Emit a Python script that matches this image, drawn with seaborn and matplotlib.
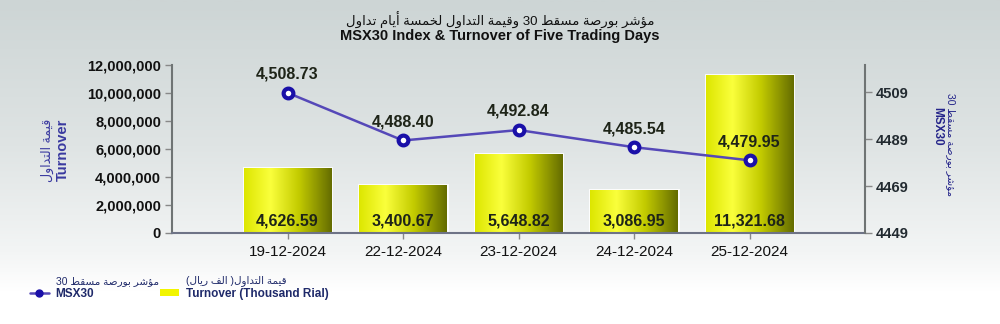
import unicodedata
import numpy as np
import matplotlib
matplotlib.use("Agg")
import matplotlib.pyplot as plt
from matplotlib.colors import LinearSegmentedColormap
from matplotlib.lines import Line2D
from matplotlib.patches import Patch
import seaborn as sns

# ---------------- data ----------------
dates = ["19-12-2024", "22-12-2024", "23-12-2024", "24-12-2024", "25-12-2024"]
turnover_thousand = [4626.59, 3400.67, 5648.82, 3086.95, 11321.68]
msx30_index = [4508.73, 4488.40, 4492.84, 4485.54, 4479.95]
left_ticks = [0, 2000000, 4000000, 6000000, 8000000, 10000000, 12000000]
right_ticks = [4449, 4469, 4489, 4509]

title_ar = "مؤشر بورصة مسقط 30 وقيمة التداول لخمسة أيام تداول"
title_en = "MSX30 Index & Turnover of Five Trading Days"
left_label_ar = "قيمة التداول"
left_label_en = "Turnover"
right_label_ar = "مؤشر بورصة مسقط 30"
right_label_en = "MSX30"
legend_ar_line = "مؤشر بورصة مسقط 30"
legend_en_line = "MSX30"
legend_ar_bar = "قيمة التداول( الف ريال)"
legend_en_bar = "Turnover (Thousand Rial)"


# ------------- minimal Arabic shaping + RTL ordering -------------
def _form(ch, kind):
    try:
        return unicodedata.lookup(unicodedata.name(ch) + " " + kind + " FORM")
    except (KeyError, ValueError):
        return None


def _is_arabic(ch):
    return "\u0600" <= ch <= "\u06ff"


def _dual(ch):
    return _is_arabic(ch) and _form(ch, "INITIAL") is not None


def shape_ar(text):
    out = []
    n = len(text)
    for i, ch in enumerate(text):
        if not _is_arabic(ch) or not ch.isalpha():
            out.append(ch)
            continue
        prev = text[i - 1] if i > 0 else ""
        nxt = text[i + 1] if i + 1 < n else ""
        join_prev = bool(prev) and _dual(prev)
        join_next = _dual(ch) and bool(nxt) and _is_arabic(nxt) and nxt.isalpha()
        if join_prev and join_next:
            f = _form(ch, "MEDIAL")
        elif join_prev:
            f = _form(ch, "FINAL")
        elif join_next:
            f = _form(ch, "INITIAL")
        else:
            f = _form(ch, "ISOLATED")
        out.append(f if f else ch)
    s = "".join(out)
    rev = s[::-1]
    res, run = [], ""
    for c in rev:
        if c.isdigit():
            run += c
        else:
            if run:
                res.append(run[::-1])
                run = ""
            res.append({"(": ")", ")": "("}.get(c, c))
    if run:
        res.append(run[::-1])
    return "".join(res)


# ---------------- style ----------------
sns.set_theme(style="white")
plt.rcParams["font.family"] = ["Liberation Sans", "DejaVu Sans"]

W, H = 1000, 324
fig = plt.figure(figsize=(W / 100, H / 100), dpi=100)

# background gradient
bg = fig.add_axes([0, 0, 1, 1], zorder=-10)
grad = np.linspace(0, 1, 300).reshape(-1, 1)
bg_cmap = LinearSegmentedColormap.from_list(
    "bg", [(0.0, "#cdd5d5"), (0.45, "#dfe4e4"), (0.78, "#f3f5f5"), (0.9, "#ffffff"), (1.0, "#ffffff")]
)
bg.imshow(grad, aspect="auto", cmap=bg_cmap, extent=[0, 1, 0, 1], origin="upper")
bg.set_axis_off()

ax = fig.add_axes([0.172, 0.281, 0.693, 0.518])
ax.set_facecolor("none")

turnover_values = [v * 1000 for v in turnover_thousand]
sns.barplot(x=dates, y=turnover_values, ax=ax, color="#e8f000", width=0.76,
            edgecolor="white", linewidth=2.0, saturation=1, zorder=2)

# gradient fill for bars
bar_cmap = LinearSegmentedColormap.from_list(
    "bar", [(0.0, "#dde600"), (0.3, "#faff3c"), (0.62, "#c4cc00"), (1.0, "#646c00")]
)
hgrad = np.linspace(0, 1, 256).reshape(1, -1)
for p in ax.patches:
    x0, y0 = p.get_x(), p.get_y()
    w, h = p.get_width(), p.get_height()
    im = ax.imshow(hgrad, aspect="auto", cmap=bar_cmap, extent=[x0, x0 + w, y0, y0 + h],
                   zorder=2.5, origin="lower")
    im.set_clip_path(p)

for i, v in enumerate(turnover_thousand):
    ax.text(i, 0.3e6, f"{v:,.2f}", ha="center", va="bottom", fontsize=11.5,
            fontweight="bold", color="#1e2418", zorder=5)

ax.set_xlim(-1, 5)
ax.set_ylim(0, 12000000)
ax.set_yticks(left_ticks)
ax.set_yticklabels([f"{t:,}" for t in left_ticks], fontsize=10.5, fontweight="bold", color="#111111")
ax.tick_params(axis="y", which="major", left=True, length=5, width=1, color="#888888", pad=3)
ax.tick_params(axis="x", bottom=True, length=4, width=1, color="#888888", labelsize=11,
               labelcolor="#111111", pad=5)
ax.set_xlabel("")
for s in ["top", "right"]:
    ax.spines[s].set_visible(False)
ax.spines["left"].set_color("#6f7474")
ax.spines["left"].set_linewidth(1.5)
ax.spines["bottom"].set_color("#6e7386")
ax.spines["bottom"].set_linewidth(1.5)

# MSX30 line on secondary axis
ax2 = ax.twinx()
ax2.set_facecolor("none")
sns.pointplot(x=dates, y=msx30_index, ax=ax2, color="#5548b8", markers="o",
              linestyles="-", errorbar=None, zorder=4)
for ln in ax2.lines:
    ln.set_linewidth(1.8)
    ln.set_marker("o")
    ln.set_markersize(7)
    ln.set_markerfacecolor("white")
    ln.set_markeredgecolor("#1a10a8")
    ln.set_markeredgewidth(3)
for coll in ax2.collections:
    coll.set_visible(False)
for i, v in enumerate(msx30_index):
    ax2.annotate(f"{v:,.2f}", (i, v), xytext=(0, 8), textcoords="offset points",
                 ha="center", va="bottom", fontsize=11.5, fontweight="bold", color="#1e2418", zorder=6)

ax2.set_xlim(-1, 5)
ax2.set_ylim(4449, 4520.5)
ax2.set_yticks(right_ticks)
ax2.set_yticklabels([str(t) for t in right_ticks], fontsize=10.5, fontweight="bold", color="#222a30")
ax2.tick_params(axis="y", right=True, length=5, width=1, color="#888888", pad=3)
ax2.set_ylabel("")
ax2.set_xlabel("")
for s in ["top", "left", "bottom"]:
    ax2.spines[s].set_visible(False)
ax2.spines["right"].set_color("#6f7474")
ax2.spines["right"].set_linewidth(1.5)

# axis labels
fig.text(0.047, 0.537, shape_ar(left_label_ar), rotation=90, ha="center", va="center",
         fontsize=9, color="#3a3aa0")
fig.text(0.063, 0.537, left_label_en, rotation=90, ha="center", va="center",
         fontsize=10.5, fontweight="bold", color="#3a3aa0")
fig.text(0.951, 0.553, shape_ar(right_label_ar), rotation=-90, ha="center", va="center",
         fontsize=7.5, color="#25258a")
fig.text(0.937, 0.61, right_label_en, rotation=-90, ha="center", va="center",
         fontsize=8.5, fontweight="bold", color="#25258a")

# title
fig.text(0.5, 0.938, shape_ar(title_ar), ha="center", va="center", fontsize=9.5,
         color="#111111")
fig.text(0.5, 0.888, title_en, ha="center", va="center", fontsize=10.5,
         fontweight="bold", color="#111111")

# legend (English lines), Arabic lines placed above each label
handles = [
    Line2D([0], [0], color="#5548b8", lw=1.8, marker="o", markersize=5,
           markerfacecolor="#1a10a8", markeredgecolor="#1a10a8"),
    Patch(facecolor="#f2f500", edgecolor="none"),
]
labels = [legend_en_line, legend_en_bar]
leg = fig.legend(handles, labels, loc="center left", bbox_to_anchor=(0.025, 0.093), ncol=2,
                 frameon=False, fontsize=8.5, labelcolor="#1f2a6a", handlelength=1.6,
                 handleheight=0.5, handletextpad=0.6, columnspacing=5.6, borderaxespad=0)
for t in leg.get_texts():
    t.set_fontweight("bold")

fig.canvas.draw()
renderer = fig.canvas.get_renderer()
inv = fig.transFigure.inverted()
for t, ar in zip(leg.get_texts(), [legend_ar_line, legend_ar_bar]):
    bb = t.get_window_extent(renderer)
    (x0, y0), (x1, y1) = inv.transform([(bb.x0, bb.y0), (bb.x1, bb.y1)])
    fig.text(x0, y1 + 0.005, shape_ar(ar), ha="left", va="bottom", fontsize=7.5,
             color="#1f2a6a")

fig.savefig("out.png", dpi=100)
